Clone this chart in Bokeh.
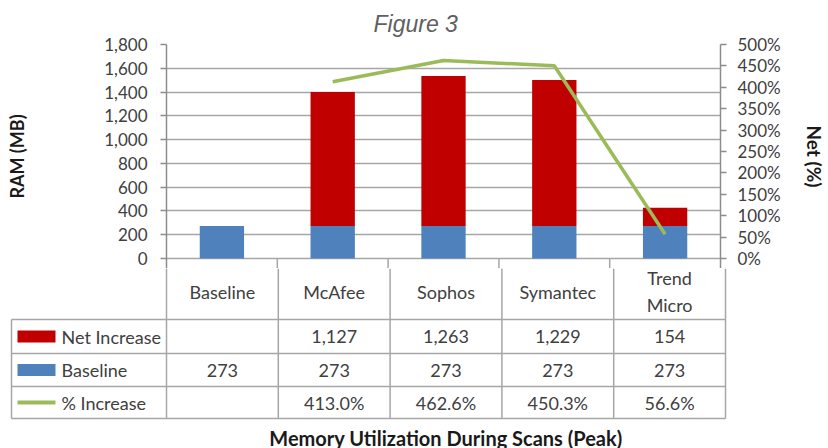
from bokeh.plotting import figure
from bokeh.models import Range1d, LinearAxis, FixedTicker, NumeralTickFormatter, PrintfTickFormatter
from bokeh.layouts import column
from bokeh.embed import file_html
from bokeh.resources import INLINE
from bokeh.core.properties import value

# ---------------- data ----------------
categories = ["Baseline", "McAfee", "Sophos", "Symantec", "Trend Micro"]
header_labels = ["Baseline", "McAfee", "Sophos", "Symantec", "Trend\nMicro"]
baseline = [273, 273, 273, 273, 273]
net_increase = [None, 1127, 1263, 1229, 154]
pct_increase = [None, 413.0, 462.6, 450.3, 56.6]
ram_ticks = [0, 200, 400, 600, 800, 1000, 1200, 1400, 1600, 1800]
pct_ticks = [0, 50, 100, 150, 200, 250, 300, 350, 400, 450, 500]
series_names = ["Net Increase", "Baseline", "% Increase"]

# ---------------- style / layout ----------------
RED = "#c00000"
BLUE = "#4f81bd"
GREEN = "#9bbb59"
GRID = "#a6a6a6"
AXIS = "#8c8c8c"
TXT = "#404040"
FONT = "Lato"

FIG_W = 828
FRAME_L = 166
FRAME_W = 559
FRAME_R = FIG_W - FRAME_L - FRAME_W
TOP = 43
PLOT_H = 215
PAD = 10
HEADER_MID = 33     # px below the zero line
TABLE_H = 448 - (TOP + PLOT_H + PAD)
n = len(categories)
W = FRAME_W / n
ram_max = ram_ticks[-1]
pct_max = pct_ticks[-1]
px_to_ram = ram_max / PLOT_H

xs = [i + 0.5 for i in range(n)]

# ---------------- chart ----------------
p = figure(width=FIG_W, height=TOP + PLOT_H + PAD,
           x_range=Range1d(0, n), y_range=Range1d(-PAD * px_to_ram, ram_max),
           x_axis_location=None, output_backend="svg", toolbar_location=None,
           min_border_left=FRAME_L, min_border_right=FRAME_R,
           min_border_top=TOP, min_border_bottom=0, frame_align=False)
p.extra_y_ranges = {"pct": Range1d(-PAD / PLOT_H * pct_max, pct_max)}
p.outline_line_color = None
p.background_fill_color = "white"
p.border_fill_color = "white"

p.title.text = "Figure 3"
p.title.text_font = "Liberation Sans"
p.title.text_font_style = "italic"
p.title.text_font_size = "23px"
p.title.text_color = "#606060"
p.title.align = "left"
p.title.offset = 207
p.title.standoff = 16

p.xgrid.visible = False
p.ygrid.ticker = FixedTicker(ticks=ram_ticks)
p.ygrid.grid_line_color = GRID
p.ygrid.grid_line_width = 1.5

def style_axis(ax):
    ax.axis_line_color = AXIS
    ax.axis_line_width = 1.5
    ax.major_tick_line_color = AXIS
    ax.major_tick_line_width = 1.5
    ax.major_tick_out = 6
    ax.major_tick_in = 0
    ax.minor_tick_line_color = None
    ax.major_label_text_font = FONT
    ax.major_label_text_font_size = "17px"
    ax.major_label_text_color = TXT
    ax.axis_label_text_font = FONT
    ax.axis_label_text_font_size = "18px"
    ax.axis_label_text_font_style = "bold"
    ax.axis_label_text_color = "#1a1a1a"

ly = p.yaxis[0]
ly.ticker = FixedTicker(ticks=ram_ticks)
ly.formatter = NumeralTickFormatter(format="0,0")
ly.axis_label = "RAM (MB)"
style_axis(ly)
ly.major_label_standoff = 13
ly.axis_label_standoff = 73

ry = LinearAxis(y_range_name="pct", ticker=FixedTicker(ticks=pct_ticks),
                formatter=PrintfTickFormatter(format="%d%%"), axis_label="Net (%)")
style_axis(ry)
ry.axis_label_text_font_size = "19px"
ry.major_label_standoff = 11
ry.axis_label_standoff = 19
p.add_layout(ry, "right")

# stacked bars
p.vbar(x=xs, bottom=0, top=baseline, width=0.4, fill_color=BLUE, line_color=None)
nx = [x for x, v in zip(xs, net_increase) if v is not None]
nb = [b for b, v in zip(baseline, net_increase) if v is not None]
nt = [b + v for b, v in zip(baseline, net_increase) if v is not None]
p.vbar(x=nx, bottom=nb, top=nt, width=0.4, fill_color=RED, line_color=None)

# % increase line
lx = [x for x, v in zip(xs, pct_increase) if v is not None]
lv = [v for v in pct_increase if v is not None]
p.line(x=lx, y=lv, y_range_name="pct", line_color=GREEN, line_width=3.5)

# column dividers continuing into the table
bounds = list(range(n + 1))
p.segment(x0=bounds[1:-1], y0=0, x1=bounds[1:-1], y1=-PAD * px_to_ram,
          line_color=GRID, line_width=1.5)

text_kw = dict(text_font=value(FONT), text_font_size="18px", text_color=TXT,
               text_baseline="middle")

# ---------------- data table ----------------
# table y coordinates: pixels below the chart's zero line
row_edges = [61, 95, 128, 160]
legend_left = (11 - FRAME_L) / W
t = figure(width=FIG_W, height=TABLE_H,
           x_range=Range1d(-FRAME_L / W, (FIG_W - FRAME_L) / W),
           y_range=Range1d(PAD + TABLE_H, PAD),
           x_axis_location=None, y_axis_location=None,
           output_backend="svg", toolbar_location=None, frame_align=False,
           min_border_left=0, min_border_right=0, min_border_top=0, min_border_bottom=0)
t.outline_line_color = None
t.xgrid.visible = False
t.ygrid.visible = False
t.border_fill_color = "white"

# vertical lines
t.segment(x0=bounds, y0=PAD, x1=bounds, y1=row_edges[-1], line_color=GRID, line_width=1.5)
t.segment(x0=[legend_left], y0=[row_edges[0]], x1=[legend_left], y1=[row_edges[-1]],
          line_color=GRID, line_width=1.5)
# horizontal lines
t.segment(x0=[legend_left] * len(row_edges), y0=row_edges, x1=[n] * len(row_edges), y1=row_edges,
          line_color=GRID, line_width=1.5)

# category labels
t.text(x=xs, y=[HEADER_MID] * n, text=header_labels, text_align="center",
       text_line_height=1.2, **text_kw)

row_centers = [(row_edges[i] + row_edges[i + 1]) / 2 for i in range(3)]

def fmt_int(v):
    return "" if v is None else f"{v:,}"

def fmt_pct(v):
    return "" if v is None else f"{v:.1f}%"

t.text(x=xs, y=[row_centers[0]] * n, text=[fmt_int(v) for v in net_increase], text_align="center", **text_kw)
t.text(x=xs, y=[row_centers[1]] * n, text=[fmt_int(v) for v in baseline], text_align="center", **text_kw)
t.text(x=xs, y=[row_centers[2]] * n, text=[fmt_pct(v) for v in pct_increase], text_align="center", **text_kw)

# legend keys
sw_l = (17 - FRAME_L) / W
sw_r = (55 - FRAME_L) / W
t.quad(left=[sw_l, sw_l], right=[sw_r, sw_r],
       top=[row_centers[0] - 6, row_centers[1] - 6], bottom=[row_centers[0] + 6, row_centers[1] + 6],
       fill_color=[RED, BLUE], line_color=None)
t.segment(x0=[sw_l], y0=[row_centers[2]], x1=[sw_r], y1=[row_centers[2]],
          line_color=GREEN, line_width=4)
lab_x = (61 - FRAME_L) / W
t.text(x=[lab_x] * 3, y=row_centers, text=series_names, text_align="left", **text_kw)

# x axis title
t.text(x=[n / 2], y=[179], text=["Memory Utilization During Scans (Peak)"], text_align="center",
       text_baseline="middle", text_font=value(FONT), text_font_size="20px",
       text_font_style="bold", text_color="#1a1a1a")

layout = column(p, t, spacing=0)
open("out.html", "w").write(file_html(layout, INLINE))
